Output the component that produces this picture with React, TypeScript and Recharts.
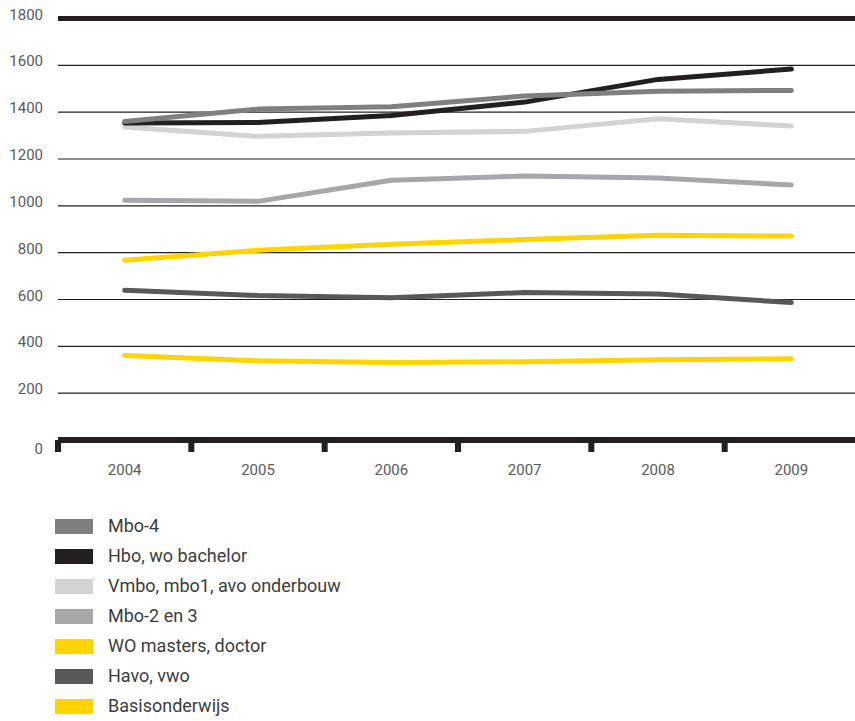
import React from "react";
import { LineChart, Line, XAxis, YAxis, CartesianGrid, ReferenceLine } from "recharts";

const years = ["2004", "2005", "2006", "2007", "2008", "2009"];
const mbo4 = [1360, 1413, 1423, 1469, 1489, 1493];
const hboBachelor = [1354, 1356, 1386, 1443, 1540, 1584];
const vmbo = [1337, 1297, 1311, 1318, 1372, 1341];
const mbo23 = [1024, 1019, 1109, 1127, 1119, 1089];
const woMasters = [768, 810, 836, 856, 874, 871];
const havoVwo = [640, 617, 607, 630, 623, 587];
const basis = [361, 338, 331, 334, 343, 347];
const yTicks = [0, 200, 400, 600, 800, 1000, 1200, 1400, 1600, 1800];

const series = [
  { key: "mbo4", name: "Mbo-4", color: "#7f7f82", values: mbo4 },
  { key: "hbo", name: "Hbo, wo bachelor", color: "#231f20", values: hboBachelor },
  { key: "vmbo", name: "Vmbo, mbo1, avo onderbouw", color: "#d2d3d5", values: vmbo },
  { key: "mbo23", name: "Mbo-2 en 3", color: "#a6a7aa", values: mbo23 },
  { key: "wo", name: "WO masters, doctor", color: "#ffd400", values: woMasters },
  { key: "havo", name: "Havo, vwo", color: "#58585a", values: havoVwo },
  { key: "basis", name: "Basisonderwijs", color: "#ffd400", values: basis },
];

const data = years.map((y, i) => {
  const row: any = { x: i + 0.5, year: y };
  series.forEach((s) => (row[s.key] = s.values[i]));
  return row;
});

const FONT = "Roboto, 'Liberation Sans', sans-serif";
const DARK = "#231f20";

const YTick = (props: any) => {
  const { x, y, payload } = props;
  const dy = payload.value === 0 ? 9 : -4;
  return (
    <text x={x} y={y + dy} textAnchor="end" dominantBaseline="central" fontSize={15} fill="#5a5a5c" fontFamily={FONT}>
      {payload.value}
    </text>
  );
};

const XLabel = (props: any) => {
  const { x, y, payload } = props;
  const label = years[Math.floor(payload.value)];
  return (
    <text x={x} y={y + 18} textAnchor="middle" dominantBaseline="central" fontSize={15} fill="#5a5a5c" fontFamily={FONT}>
      {label}
    </text>
  );
};

const EmptyTick = () => <g />;

export default function App() {
  return (
    <div style={{ position: "absolute", left: 0, top: 0, width: 855, height: 721, overflow: "hidden", background: "#fff" }}>
      <LineChart width={860} height={480} data={data} margin={{ top: 18.5, right: 2, left: 0, bottom: 0 }}>
        <CartesianGrid vertical={false} stroke={DARK} strokeWidth={1.2} xAxisId="bounds" />
        <XAxis
          xAxisId="bounds"
          dataKey="x"
          type="number"
          domain={[0, 6]}
          ticks={[0, 1, 2, 3, 4, 5, 6]}
          interval={0}
          height={12}
          tick={<EmptyTick />}
          tickSize={12}
          tickLine={{ stroke: DARK, strokeWidth: 6 }}
          axisLine={{ stroke: DARK, strokeWidth: 6 }}
        />
        <XAxis
          xAxisId="labels"
          dataKey="x"
          type="number"
          domain={[0, 6]}
          ticks={[0.5, 1.5, 2.5, 3.5, 4.5, 5.5]}
          interval={0}
          height={28}
          axisLine={false}
          tickLine={false}
          tickSize={0}
          tickMargin={0}
          tick={<XLabel />}
        />
        <YAxis
          domain={[0, 1800]}
          ticks={yTicks}
          width={58}
          axisLine={false}
          tickLine={false}
          tickSize={0}
          tickMargin={15}
          tick={<YTick />}
          interval={0}
        />
        <ReferenceLine y={1800} xAxisId="bounds" stroke={DARK} strokeWidth={5} />
        {[...series].reverse().map((s) => (
          <Line
            key={s.key}
            xAxisId="bounds"
            dataKey={s.key}
            name={s.name}
            type="linear"
            stroke={s.color}
            strokeWidth={5}
            strokeLinecap="round"
            strokeLinejoin="round"
            dot={false}
            activeDot={false}
            isAnimationActive={false}
          />
        ))}
      </LineChart>
      <div style={{ position: "absolute", left: 55, top: 511, fontFamily: FONT }}>
        {series.map((s) => (
          <div key={s.key} style={{ height: 30, display: "flex", alignItems: "center" }}>
            <div style={{ width: 38, height: 15, background: s.color }} />
            <span style={{ marginLeft: 15, fontSize: 18, color: "#3c3c3c", lineHeight: "30px" }}>{s.name}</span>
          </div>
        ))}
      </div>
    </div>
  );
}
